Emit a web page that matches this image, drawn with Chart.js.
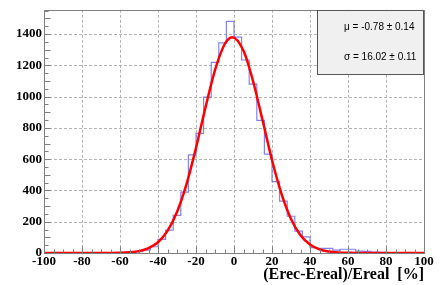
<!DOCTYPE html>
<html>
<head>
<meta charset="utf-8">
<script src="https://cdn.jsdelivr.net/npm/chart.js@4/dist/chart.umd.min.js"></script>
<style>
    html, body { margin: 0; padding: 0; background: #ffffff; }
    #wrap { width: 442px; height: 285px; }
</style>
</head>
<body>
<div id="wrap"><canvas id="resoChart" width="442" height="285"></canvas></div>
<script>
// ==============================
// Data
// ==============================

// histogram bin edges, 4 % wide
const binEdges = [
    -100, -96, -92, -88, -84, -80, -76, -72, -68, -64,
    -60, -56, -52, -48, -44, -40, -36, -32, -28, -24,
    -20, -16, -12, -8, -4, 0, 4, 8, 12, 16,
    20, 24, 28, 32, 36, 40, 44, 48, 52, 56,
    60, 64, 68, 72, 76, 80, 84, 88, 92, 96, 100
];

// entries per bin (one less than edges)
const binCounts = [
    0, 0, 0, 0, 0, 0, 0, 0, 1, 1,
    2, 4, 8, 18, 40, 87, 146, 241, 389, 628,
    765, 997, 1219, 1344, 1481, 1380, 1234, 1080, 848, 632,
    456, 332, 235, 140, 103, 34, 30, 30, 18, 24,
    24, 12, 10, 6, 4, 2, 1, 1, 0, 0
];

// gaussian fit curve, sampled points
const fitX = [-100, -80, -70, -65, -60, -55, -50, -45, -40, -35, -30, -25, -20, -15, -10, -5, -1,
              5, 10, 15, 20, 25, 30, 35, 40, 45, 50, 55, 60, 65, 70, 80, 100];
const fitY = [0, 0, 0.1, 0.5, 1.5, 4.5, 12, 31, 69, 141, 262, 440, 672, 931, 1169, 1333, 1380,
              1293, 1100, 850, 595, 378, 218, 114, 54, 23, 9, 3, 1, 0.3, 0.1, 0, 0];

// axis grid positions
const xGridLines = [-80, -60, -40, -20, 0, 20, 40, 60, 80];
const yGridLines = [200, 400, 600, 800, 1000, 1200, 1400];

const fitMean = "\u03bc = -0.78 \u00b1 0.14";
const fitSigma = "\u03c3 = 16.02 \u00b1 0.11";

const yMax = 1555;

const serifBold = "Liberation Serif, Times New Roman, serif";

Chart.defaults.font.family = serifBold;
Chart.defaults.font.weight = "bold";
Chart.defaults.font.size = 13;
Chart.defaults.color = "#000000";


// ==============================
// Dashed grid (behind the data)
// ==============================
const rootGrid = {
    id: "rootGrid",
    beforeDatasetsDraw(chart) {
        const { ctx, chartArea, scales } = chart;

        ctx.save();
        ctx.strokeStyle = "#b4b4b4";
        ctx.lineWidth = 1;
        ctx.setLineDash([3, 2]);
        ctx.beginPath();

        xGridLines.forEach(v => {
            const px = Math.round(scales.x.getPixelForValue(v)) + 0.5;
            ctx.moveTo(px, chartArea.top);
            ctx.lineTo(px, chartArea.bottom);
        });

        yGridLines.forEach(v => {
            const py = Math.round(scales.y.getPixelForValue(v)) + 0.5;
            ctx.moveTo(chartArea.left, py);
            ctx.lineTo(chartArea.right, py);
        });

        ctx.stroke();
        ctx.restore();
    }
};


// ==============================
// Inward ticks, frame, stats box
// ==============================
const rootStyle = {
    id: "rootStyle",
    afterDraw(chart) {
        const { ctx, chartArea, scales } = chart;
        const left = Math.round(chartArea.left) + 0.5;
        const right = Math.round(chartArea.right) + 0.5;
        const top = Math.round(chartArea.top) + 0.5;
        const bottom = Math.round(chartArea.bottom) + 0.5;

        ctx.save();
        ctx.strokeStyle = "#7f7f7f";
        ctx.lineWidth = 1;
        ctx.beginPath();

        // y ticks every 50
        for (let v = 0; v <= 1550; v += 50) {
            const py = Math.round(scales.y.getPixelForValue(v)) + 0.5;
            const len = v % 100 === 0 ? 6 : 4;
            ctx.moveTo(left, py);
            ctx.lineTo(left + len, py);
        }

        // x ticks every 5
        for (let v = -100; v <= 100; v += 5) {
            const px = Math.round(scales.x.getPixelForValue(v)) + 0.5;
            const len = v % 20 === 0 ? 7 : 4;
            ctx.moveTo(px, bottom);
            ctx.lineTo(px, bottom - len);
        }
        ctx.stroke();

        // frame
        ctx.strokeRect(left, top, right - left, bottom - top);

        // stats box
        ctx.fillStyle = "#f0f0f0";
        ctx.fillRect(317, 10, 106, 64);
        ctx.strokeStyle = "#555555";
        ctx.strokeRect(317.5, 10.5, 106, 64);

        ctx.fillStyle = "#000000";
        ctx.font = "10px Liberation Sans, Arial, sans-serif";
        ctx.textAlign = "left";
        ctx.textBaseline = "middle";
        ctx.fillText(fitMean, 344, 27);
        ctx.fillText(fitSigma, 344, 57);

        ctx.restore();
    }
};


// ==============================
// Chart
// ==============================
function renderResolutionChart() {
    const chartCanvas = document.getElementById("resoChart");

    if (!chartCanvas) return;
    if (typeof Chart === "undefined") return;

    // stepped histogram: value held from each left edge
    const histPoints = binEdges.map((edge, i) => ({
        x: edge,
        y: i < binCounts.length ? binCounts[i] : binCounts[binCounts.length - 1]
    }));

    const fitPoints = fitX.map((x, i) => ({ x: x, y: fitY[i] }));

    const tickFont = { family: serifBold, weight: "bold", size: 13 };

    new Chart(chartCanvas, {
        type: "line",
        data: {
            datasets: [
                {
                    label: "fit",
                    data: fitPoints,
                    borderColor: "#ff0000",
                    borderWidth: 2.5,
                    pointRadius: 0,
                    fill: false,
                    cubicInterpolationMode: "monotone",
                    order: 0
                },
                {
                    label: "histogram",
                    data: histPoints,
                    borderColor: "rgba(90, 90, 235, 0.75)",
                    borderWidth: 1.2,
                    pointRadius: 0,
                    fill: false,
                    stepped: true,
                    order: 1
                }
            ]
        },
        options: {
            responsive: false,
            animation: false,
            layout: {
                padding: { top: 8, right: 18, left: 0, bottom: 0 }
            },
            plugins: {
                legend: { display: false },
                tooltip: { enabled: false }
            },
            scales: {
                x: {
                    type: "linear",
                    min: -100,
                    max: 100,
                    afterFit: scale => { scale.height = 32; },
                    ticks: {
                        stepSize: 20,
                        autoSkip: false,
                        maxRotation: 0,
                        padding: 1,
                        color: "#000000",
                        font: tickFont,
                        callback: value => String(value)
                    },
                    grid: { display: false, drawTicks: false },
                    border: { display: false },
                    title: {
                        display: true,
                        text: "(Erec-Ereal)/Ereal  [%]",
                        align: "end",
                        color: "#000000",
                        padding: { top: 0, bottom: 2 },
                        font: { family: serifBold, weight: "bold", size: 16, lineHeight: 1 }
                    }
                },
                y: {
                    min: 0,
                    max: yMax,
                    afterFit: scale => { scale.width = 44; },
                    ticks: {
                        stepSize: 200,
                        padding: 2,
                        color: "#000000",
                        font: tickFont,
                        callback: value => (value % 200 === 0 ? String(value) : "")
                    },
                    grid: { display: false, drawTicks: false },
                    border: { display: false }
                }
            }
        },
        plugins: [rootGrid, rootStyle]
    });
}

renderResolutionChart();
</script>
</body>
</html>
